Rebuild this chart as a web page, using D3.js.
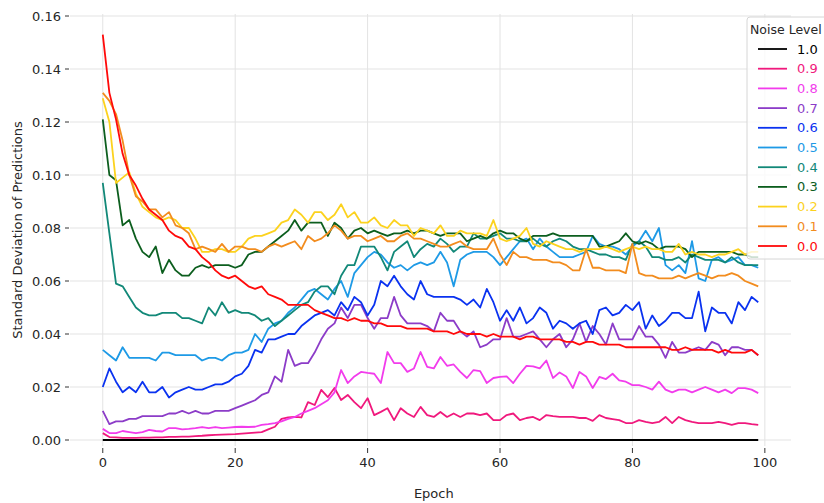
<html>
<head>
  <meta http-equiv='Content-Type' content='text/html;charset=utf-8'>
  <title>Standard Deviation of Predictions by Noise Level</title>
  <script src="https://d3js.org/d3.v7.min.js"></script>
  <style type='text/css'>
    body { margin: 0; background: #fff; font-family: 'DejaVu Sans', sans-serif; }
    #main { position: relative; width: 824px; height: 503px; overflow: hidden; }
    svg { display: block; }
    .grid line { stroke: #e3e3e3; stroke-width: 1; }
    .tick-label { font-size: 13px; fill: #262626; }
    .axis-title { font-size: 13px; fill: #262626; }
    .series { fill: none; stroke-width: 1.8; stroke-linejoin: round; }
  </style>
</head>
<body>
<div id="main"></div>

<script type='text/javascript'>

// noise levels, in legend order
var levels = ['1.0', '0.9', '0.8', '0.7', '0.6', '0.5', '0.4', '0.3', '0.2', '0.1', '0.0'];
var colors = ['#000000', '#f0197d', '#f23cec', '#8c3cc8', '#0a32f0', '#1e9ae6', '#128878', '#0c5e1e', '#fcd21e', '#f28c1e', '#ff0a0a'];

var xTicks = [0, 20, 40, 60, 80, 100];
var yTicks = [0.00, 0.02, 0.04, 0.06, 0.08, 0.10, 0.12, 0.14, 0.16];

// std of predictions per epoch (0..99)
var std10 = [
  0,0,0,0,0,0,0,0,0,0, 0,0,0,0,0,0,0,0,0,0, 0,0,0,0,0,0,0,0,0,0, 0,0,0,0,0,0,0,0,0,0, 0,0,0,0,0,0,0,0,0,0,
  0,0,0,0,0,0,0,0,0,0, 0,0,0,0,0,0,0,0,0,0, 0,0,0,0,0,0,0,0,0,0, 0,0,0,0,0,0,0,0,0,0, 0,0,0,0,0,0,0,0,0,0];
var std09 = [
  0.0026, 0.0011, 0.0010, 0.0008, 0.0008, 0.0008, 0.0009, 0.0009, 0.0010, 0.0010,
  0.0012, 0.0012, 0.0013, 0.0013, 0.0015, 0.0016, 0.0018, 0.0019, 0.0020, 0.0021,
  0.0022, 0.0024, 0.0026, 0.0028, 0.0030, 0.0040, 0.0050, 0.0080, 0.0085, 0.0087,
  0.0085, 0.0143, 0.0132, 0.0189, 0.0162, 0.0196, 0.0151, 0.0170, 0.0143, 0.0120,
  0.0158, 0.0094, 0.0106, 0.0120, 0.0075, 0.0120, 0.0100, 0.0087, 0.0125, 0.0094,
  0.0087, 0.0106, 0.0087, 0.0100, 0.0087, 0.0100, 0.0100, 0.0094, 0.0100, 0.0075,
  0.0075, 0.0094, 0.0100, 0.0075, 0.0083, 0.0087, 0.0075, 0.0094, 0.0090, 0.0087,
  0.0087, 0.0087, 0.0083, 0.0083, 0.0072, 0.0094, 0.0083, 0.0079, 0.0075, 0.0064,
  0.0064, 0.0075, 0.0068, 0.0064, 0.0068, 0.0087, 0.0064, 0.0087, 0.0075, 0.0068,
  0.0064, 0.0064, 0.0064, 0.0068, 0.0064, 0.0057, 0.0064, 0.0064, 0.0060, 0.0057];
var std08 = [
  0.0042, 0.0026, 0.0026, 0.0034, 0.0030, 0.0026, 0.0030, 0.0038, 0.0034, 0.0032,
  0.0045, 0.0045, 0.0040, 0.0042, 0.0045, 0.0049, 0.0045, 0.0049, 0.0045, 0.0047,
  0.0049, 0.0050, 0.0049, 0.0050, 0.0057, 0.0060, 0.0064, 0.0070, 0.0080, 0.0087,
  0.0100, 0.0110, 0.0120, 0.0135, 0.0150, 0.0180, 0.0264, 0.0215, 0.0240, 0.0257,
  0.0253, 0.0250, 0.0215, 0.0332, 0.0290, 0.0290, 0.0257, 0.0270, 0.0332, 0.0276,
  0.0270, 0.0313, 0.0280, 0.0285, 0.0257, 0.0234, 0.0264, 0.0260, 0.0215, 0.0234,
  0.0238, 0.0240, 0.0215, 0.0250, 0.0280, 0.0278, 0.0270, 0.0300, 0.0234, 0.0255,
  0.0240, 0.0196, 0.0257, 0.0240, 0.0196, 0.0238, 0.0230, 0.0250, 0.0225, 0.0220,
  0.0207, 0.0207, 0.0200, 0.0190, 0.0220, 0.0190, 0.0180, 0.0190, 0.0190, 0.0180,
  0.0190, 0.0200, 0.0190, 0.0180, 0.0190, 0.0177, 0.0196, 0.0196, 0.0190, 0.0177];
var std07 = [
  0.011, 0.006, 0.007, 0.007, 0.008, 0.008, 0.009, 0.009, 0.009, 0.009,
  0.010, 0.010, 0.011, 0.010, 0.011, 0.010, 0.010, 0.011, 0.011, 0.011,
  0.012, 0.013, 0.014, 0.015, 0.017, 0.018, 0.024, 0.022, 0.034, 0.028,
  0.029, 0.029, 0.033, 0.038, 0.042, 0.044, 0.050, 0.046, 0.051, 0.051,
  0.046, 0.042, 0.046, 0.046, 0.054, 0.047, 0.044, 0.044, 0.044, 0.043,
  0.041, 0.048, 0.045, 0.045, 0.041, 0.039, 0.041, 0.035, 0.036, 0.038,
  0.038, 0.046, 0.039, 0.039, 0.040, 0.041, 0.038, 0.035, 0.038, 0.040,
  0.035, 0.038, 0.044, 0.037, 0.043, 0.040, 0.036, 0.044, 0.038, 0.038,
  0.038, 0.043, 0.039, 0.039, 0.036, 0.031, 0.037, 0.033, 0.033, 0.034,
  0.035, 0.034, 0.037, 0.036, 0.032, 0.035, 0.035, 0.034, 0.034, 0.032];
var std06 = [
  0.020, 0.027, 0.022, 0.018, 0.020, 0.018, 0.022, 0.018, 0.018, 0.020,
  0.016, 0.018, 0.019, 0.020, 0.019, 0.019, 0.020, 0.021, 0.021, 0.022,
  0.024, 0.025, 0.028, 0.034, 0.033, 0.038, 0.038, 0.039, 0.040, 0.040,
  0.043, 0.045, 0.047, 0.048, 0.049, 0.047, 0.052, 0.049, 0.054, 0.052,
  0.047, 0.051, 0.060, 0.058, 0.062, 0.058, 0.055, 0.053, 0.060, 0.055,
  0.054, 0.054, 0.054, 0.054, 0.053, 0.051, 0.053, 0.050, 0.057, 0.052,
  0.045, 0.049, 0.045, 0.050, 0.044, 0.046, 0.050, 0.048, 0.042, 0.045,
  0.044, 0.042, 0.044, 0.045, 0.040, 0.049, 0.050, 0.047, 0.048, 0.051,
  0.049, 0.052, 0.042, 0.047, 0.043, 0.045, 0.048, 0.048, 0.046, 0.046,
  0.056, 0.041, 0.050, 0.048, 0.048, 0.044, 0.052, 0.049, 0.054, 0.052];
var std05 = [
  0.034, 0.032, 0.030, 0.035, 0.031, 0.031, 0.031, 0.031, 0.030, 0.033,
  0.033, 0.032, 0.032, 0.032, 0.032, 0.030, 0.031, 0.031, 0.030, 0.032,
  0.033, 0.033, 0.034, 0.040, 0.037, 0.042, 0.044, 0.045, 0.048, 0.050,
  0.053, 0.056, 0.057, 0.055, 0.053, 0.057, 0.060, 0.054, 0.063, 0.066,
  0.069, 0.071, 0.070, 0.067, 0.065, 0.066, 0.064, 0.066, 0.067, 0.066,
  0.067, 0.071, 0.067, 0.058, 0.068, 0.070, 0.071, 0.071, 0.071, 0.069,
  0.066, 0.069, 0.072, 0.075, 0.076, 0.072, 0.076, 0.073, 0.071, 0.069,
  0.069, 0.069, 0.070, 0.071, 0.077, 0.074, 0.073, 0.073, 0.072, 0.070,
  0.073, 0.075, 0.079, 0.075, 0.080, 0.066, 0.064, 0.066, 0.063, 0.075,
  0.061, 0.060, 0.068, 0.069, 0.067, 0.068, 0.069, 0.066, 0.066, 0.065];
var std04 = [
  0.097, 0.078, 0.059, 0.058, 0.054, 0.050, 0.048, 0.047, 0.047, 0.048,
  0.048, 0.048, 0.046, 0.046, 0.045, 0.044, 0.050, 0.047, 0.052, 0.048,
  0.049, 0.048, 0.048, 0.047, 0.045, 0.046, 0.043, 0.045, 0.047, 0.049,
  0.051, 0.052, 0.056, 0.058, 0.058, 0.055, 0.062, 0.066, 0.066, 0.073,
  0.073, 0.073, 0.069, 0.064, 0.071, 0.073, 0.075, 0.069, 0.072, 0.074,
  0.073, 0.076, 0.074, 0.071, 0.073, 0.073, 0.078, 0.076, 0.076, 0.077,
  0.078, 0.076, 0.076, 0.075, 0.075, 0.076, 0.074, 0.073, 0.075, 0.076,
  0.075, 0.073, 0.072, 0.072, 0.071, 0.070, 0.070, 0.069, 0.069, 0.068,
  0.074, 0.075, 0.073, 0.069, 0.069, 0.068, 0.068, 0.069, 0.067, 0.070,
  0.069, 0.068, 0.068, 0.068, 0.067, 0.069, 0.067, 0.066, 0.066, 0.066];
var std03 = [
  0.121, 0.100, 0.098, 0.081, 0.083, 0.076, 0.071, 0.069, 0.073, 0.063,
  0.068, 0.064, 0.062, 0.062, 0.065, 0.066, 0.065, 0.066, 0.066, 0.066,
  0.065, 0.066, 0.070, 0.071, 0.071, 0.073, 0.075, 0.077, 0.079, 0.083,
  0.079, 0.082, 0.082, 0.082, 0.077, 0.082, 0.080, 0.076, 0.079, 0.080,
  0.078, 0.079, 0.078, 0.077, 0.078, 0.078, 0.079, 0.078, 0.079, 0.079,
  0.078, 0.077, 0.078, 0.078, 0.078, 0.075, 0.076, 0.077, 0.076, 0.078,
  0.079, 0.078, 0.078, 0.076, 0.075, 0.077, 0.077, 0.077, 0.078, 0.077,
  0.077, 0.077, 0.077, 0.077, 0.077, 0.073, 0.073, 0.074, 0.075, 0.078,
  0.075, 0.074, 0.075, 0.074, 0.072, 0.073, 0.073, 0.073, 0.072, 0.069,
  0.071, 0.071, 0.071, 0.071, 0.071, 0.071, 0.070, 0.070, 0.069, 0.069];
var std02 = [
  0.129, 0.120, 0.097, 0.099, 0.101, 0.093, 0.088, 0.086, 0.084, 0.083,
  0.084, 0.083, 0.080, 0.080, 0.076, 0.071, 0.071, 0.072, 0.072, 0.071,
  0.071, 0.073, 0.076, 0.077, 0.077, 0.078, 0.079, 0.082, 0.083, 0.087,
  0.085, 0.082, 0.086, 0.086, 0.083, 0.085, 0.089, 0.084, 0.086, 0.082,
  0.082, 0.084, 0.081, 0.080, 0.083, 0.081, 0.081, 0.077, 0.080, 0.079,
  0.078, 0.081, 0.077, 0.077, 0.079, 0.078, 0.078, 0.078, 0.077, 0.083,
  0.076, 0.075, 0.076, 0.077, 0.080, 0.074, 0.073, 0.075, 0.074, 0.073,
  0.072, 0.072, 0.071, 0.072, 0.072, 0.072, 0.073, 0.072, 0.071, 0.072,
  0.073, 0.072, 0.073, 0.072, 0.072, 0.071, 0.071, 0.074, 0.070, 0.071,
  0.070, 0.070, 0.069, 0.070, 0.070, 0.071, 0.072, 0.070, 0.071, 0.071];
var std01 = [
  0.131, 0.128, 0.123, 0.113, 0.100, 0.092, 0.090, 0.087, 0.087, 0.084,
  0.086, 0.081, 0.080, 0.078, 0.072, 0.073, 0.072, 0.071, 0.074, 0.071,
  0.073, 0.073, 0.072, 0.072, 0.071, 0.073, 0.074, 0.073, 0.074, 0.075,
  0.072, 0.077, 0.075, 0.076, 0.078, 0.081, 0.079, 0.076, 0.077, 0.077,
  0.075, 0.076, 0.077, 0.075, 0.075, 0.077, 0.078, 0.076, 0.076, 0.075,
  0.074, 0.073, 0.073, 0.074, 0.075, 0.073, 0.072, 0.072, 0.072, 0.076,
  0.070, 0.066, 0.071, 0.069, 0.069, 0.068, 0.068, 0.068, 0.067, 0.067,
  0.066, 0.064, 0.064, 0.072, 0.065, 0.065, 0.064, 0.064, 0.064, 0.063,
  0.074, 0.063, 0.062, 0.062, 0.061, 0.061, 0.061, 0.062, 0.061, 0.062,
  0.063, 0.062, 0.061, 0.062, 0.062, 0.063, 0.062, 0.060, 0.059, 0.058];
var std00 = [
  0.153, 0.131, 0.121, 0.108, 0.100, 0.096, 0.091, 0.087, 0.085, 0.083,
  0.079, 0.077, 0.076, 0.073, 0.072, 0.069, 0.067, 0.064, 0.062, 0.061,
  0.062, 0.060, 0.058, 0.057, 0.058, 0.055, 0.054, 0.053, 0.051, 0.051,
  0.051, 0.051, 0.049, 0.048, 0.047, 0.046, 0.046, 0.045, 0.046, 0.045,
  0.045, 0.044, 0.044, 0.043, 0.043, 0.043, 0.042, 0.042, 0.042, 0.042,
  0.041, 0.041, 0.041, 0.040, 0.041, 0.040, 0.040, 0.040, 0.039, 0.040,
  0.039, 0.039, 0.039, 0.038, 0.039, 0.039, 0.038, 0.038, 0.038, 0.038,
  0.037, 0.037, 0.036, 0.037, 0.037, 0.036, 0.036, 0.036, 0.036, 0.035,
  0.035, 0.035, 0.035, 0.035, 0.035, 0.035, 0.034, 0.034, 0.035, 0.034,
  0.034, 0.034, 0.034, 0.033, 0.034, 0.033, 0.033, 0.033, 0.034, 0.032];

var seriesValues = [std10, std09, std08, std07, std06, std05, std04, std03, std02, std01, std00];

var W = 824, H = 503,
    plotLeft = 70, plotRight = 791, plotTop = 14, plotBottom = 446;

var x = d3.scaleLinear().domain([-4.95, 103.95]).range([plotLeft, plotRight]);
var y = d3.scaleLinear().domain([0, 0.16]).range([440, 16]);

var svg = d3.select('#main').append('svg')
    .attr('width', W)
    .attr('height', H);

// grid
var grid = svg.append('g').attr('class', 'grid');
grid.selectAll('line.gx').data(xTicks).enter().append('line')
    .attr('x1', function (d) { return x(d); })
    .attr('x2', function (d) { return x(d); })
    .attr('y1', plotTop)
    .attr('y2', plotBottom);
grid.selectAll('line.gy').data(yTicks).enter().append('line')
    .attr('x1', plotLeft)
    .attr('x2', plotRight)
    .attr('y1', function (d) { return y(d); })
    .attr('y2', function (d) { return y(d); });

// x axis ticks + labels
var xAxis = svg.append('g');
xAxis.selectAll('line').data(xTicks).enter().append('line')
    .attr('x1', function (d) { return x(d); })
    .attr('x2', function (d) { return x(d); })
    .attr('y1', plotBottom + 2)
    .attr('y2', plotBottom + 7)
    .style('stroke', '#333').style('stroke-width', 1);
xAxis.selectAll('text').data(xTicks).enter().append('text')
    .attr('class', 'tick-label')
    .attr('x', function (d) { return x(d); })
    .attr('y', 467)
    .attr('text-anchor', 'middle')
    .text(function (d) { return d; });

// y axis ticks + labels
var yAxis = svg.append('g');
yAxis.selectAll('line').data(yTicks).enter().append('line')
    .attr('x1', plotLeft - 5)
    .attr('x2', plotLeft - 1)
    .attr('y1', function (d) { return y(d); })
    .attr('y2', function (d) { return y(d); })
    .style('stroke', '#333').style('stroke-width', 1);
yAxis.selectAll('text').data(yTicks).enter().append('text')
    .attr('class', 'tick-label')
    .attr('x', plotLeft - 9)
    .attr('y', function (d) { return y(d); })
    .attr('dy', '0.35em')
    .attr('text-anchor', 'end')
    .text(function (d) { return d3.format('.2f')(d); });

svg.append('text')
    .attr('class', 'axis-title')
    .attr('x', x(50))
    .attr('y', 498)
    .attr('text-anchor', 'middle')
    .text('Epoch');

svg.append('text')
    .attr('class', 'axis-title')
    .attr('transform', 'translate(22,' + ((plotTop + plotBottom) / 2) + ') rotate(-90)')
    .attr('text-anchor', 'middle')
    .text('Standard Deviation of Predictions');

// lines
var line = d3.line()
    .x(function (d, i) { return x(i); })
    .y(function (d) { return y(d); });

svg.append('g').selectAll('path').data(seriesValues).enter().append('path')
    .attr('class', 'series')
    .attr('d', line)
    .style('stroke', function (d, i) { return colors[i]; });

// legend
var lg = svg.append('g').attr('transform', 'translate(747,17)');
lg.append('rect')
    .attr('width', 100).attr('height', 242)
    .attr('rx', 3)
    .style('fill', '#fff').style('fill-opacity', 0.8)
    .style('stroke', '#d6d6d6');
lg.append('text')
    .attr('x', 3).attr('y', 13)
    .attr('dy', '0.35em')
    .style('font-size', '12.5px').style('fill', '#262626')
    .text('Noise Level');
var rows = lg.selectAll('g.row').data(levels).enter().append('g')
    .attr('class', 'row')
    .attr('transform', function (d, i) { return 'translate(0,' + (32 + i * 19.7) + ')'; });
rows.append('line')
    .attr('x1', 11).attr('x2', 40)
    .style('stroke', function (d, i) { return colors[i]; })
    .style('stroke-width', 1.8);
rows.append('text')
    .attr('x', 50).attr('dy', '0.35em')
    .style('font-size', '13px')
    .style('fill', function (d, i) { return colors[i]; })
    .text(function (d) { return d; });

</script>
</body>
</html>
